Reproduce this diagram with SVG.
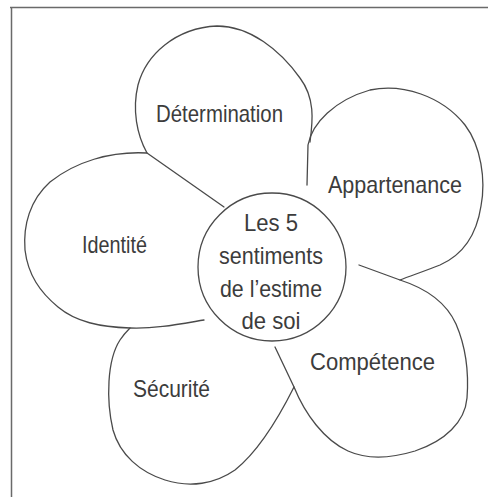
<svg xmlns="http://www.w3.org/2000/svg" width="488" height="497" viewBox="0 0 488 497">
<style>
  .outline { fill: none; stroke: #4a4a4a; stroke-width: 1.3; stroke-linejoin: round; stroke-linecap: round; }
  .frame { fill: none; stroke: #6a6a6a; stroke-width: 1.5; }
  .lbl { font-family: "Liberation Sans", Arial, sans-serif; font-size: 24px; fill: #3c3c3c; text-anchor: middle; }
</style>
<rect width="488" height="497" fill="#ffffff"/>
<g id="frame">
  <path class="frame" d="M10,7.5 L488,7.5 M11.5,7 L11.5,497"/>
</g>
<g id="connectors"></g>
<g id="petal-determination">
  <path class="outline" d="M147,153 C137,135 132,110 138,85 C146,55 175,28 217,26 C250,26 280,50 300,78 C315,98 313,120 310,142"/>
  <text class="lbl" x="219.5" y="122" textLength="127" lengthAdjust="spacingAndGlyphs">Détermination</text>
</g>
<g id="petal-appartenance">
  <path class="outline" d="M307,185 L308,145 C312,123 335,100 370,90 C402,83 442,96 465,125 C481,146 486,180 481,206 C477,232 465,254 440,265 C425,271 410,276 400,280 L359,265"/>
  <text class="lbl" x="395" y="193" textLength="134" lengthAdjust="spacingAndGlyphs">Appartenance</text>
</g>
<g id="petal-competence">
  <path class="outline" d="M400,280 C425,288 446,302 456,324 C465,345 469,372 467,398 C465,422 445,441 415,451 C392,458 368,460 348,451 C324,440 305,414 294,387 L275,347"/>
  <text class="lbl" x="372.5" y="370" textLength="125" lengthAdjust="spacingAndGlyphs">Compétence</text>
</g>
<g id="petal-securite">
  <path class="outline" d="M294,387 C280,415 260,450 235,470 C215,484 190,488 165,480 C140,472 120,455 113,430 C106,400 107,360 120,340 C124,334 127,331 130,328"/>
  <text class="lbl" x="171.5" y="397" textLength="77" lengthAdjust="spacingAndGlyphs">Sécurité</text>
</g>
<g id="petal-identite">
  <path class="outline" d="M204,320 C180,324 155,329 130,328 C100,327 76,322 58,307 C40,292 28,275 25,250 C23,225 30,200 50,182 C75,162 110,151 147,153 L224,207"/>
  <text class="lbl" x="114.5" y="253" textLength="65" lengthAdjust="spacingAndGlyphs">Identité</text>
</g>
<g id="center">
  <circle class="outline" cx="272" cy="267" r="74"/>
  <text class="lbl" x="271" y="231" textLength="54" lengthAdjust="spacingAndGlyphs">Les 5</text>
  <text class="lbl" x="271" y="264" textLength="104" lengthAdjust="spacingAndGlyphs">sentiments</text>
  <text class="lbl" x="271" y="297" textLength="102" lengthAdjust="spacingAndGlyphs">de l’estime</text>
  <text class="lbl" x="271" y="329" textLength="59" lengthAdjust="spacingAndGlyphs">de soi</text>
</g>
</svg>
